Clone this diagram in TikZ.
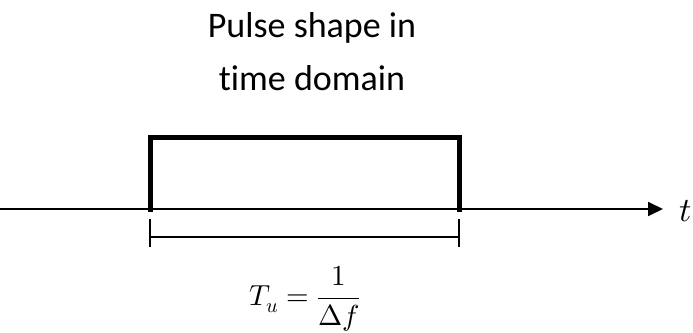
\documentclass[tikz,border=0pt]{standalone}
\usepackage{unicode-math}
\setmainfont[RawFeature=-liga]{Carlito}
\setmathfont{Latin Modern Math}
\usetikzlibrary{arrows.meta}
\begin{document}
\begin{tikzpicture}[x=1pt,y=-1pt,
  pulse/.style={line width=5pt,line cap=rect},
  axis/.style={line width=1.8pt,-{Triangle[length=15pt,width=14pt]}},
  span/.style={line width=1.5pt},
  lbl/.style={inner sep=0pt},
  ttl/.style={lbl,anchor=base,font=\fontsize{36}{44}\selectfont}]
\useasboundingbox (0,0) rectangle (693,332);
\node[ttl] (title1) at (312,37) {Pulse shape in};
\node[ttl] (title2) at (312,90) {time domain};
\coordinate (a0) at (0,209);
\coordinate (a1) at (663,209);
\draw[axis] (a0) -- (a1);
\node[lbl,anchor=base west,font=\fontsize{34}{40}\selectfont] (t) at (679,221) {$t$};
\coordinate (p1) at (150,209);
\coordinate (p2) at (150,137);
\coordinate (p3) at (459,137);
\coordinate (p4) at (459,209);
\draw[pulse] (p1) -- (p2) -- (p3) -- (p4);
\coordinate (b1) at (150,237);
\coordinate (b2) at (459,237);
\draw[span] (b1) -- (b2);
\draw[span] ([yshift=-10pt]b1) -- ([yshift=18pt]b1);
\draw[span] ([yshift=-10pt]b2) -- ([yshift=18pt]b2);
\node[lbl,font=\fontsize{29}{36}\selectfont] (f) at (305,299) {$\displaystyle T_u=\frac{1}{\Delta f}$};
\end{tikzpicture}
\end{document}
